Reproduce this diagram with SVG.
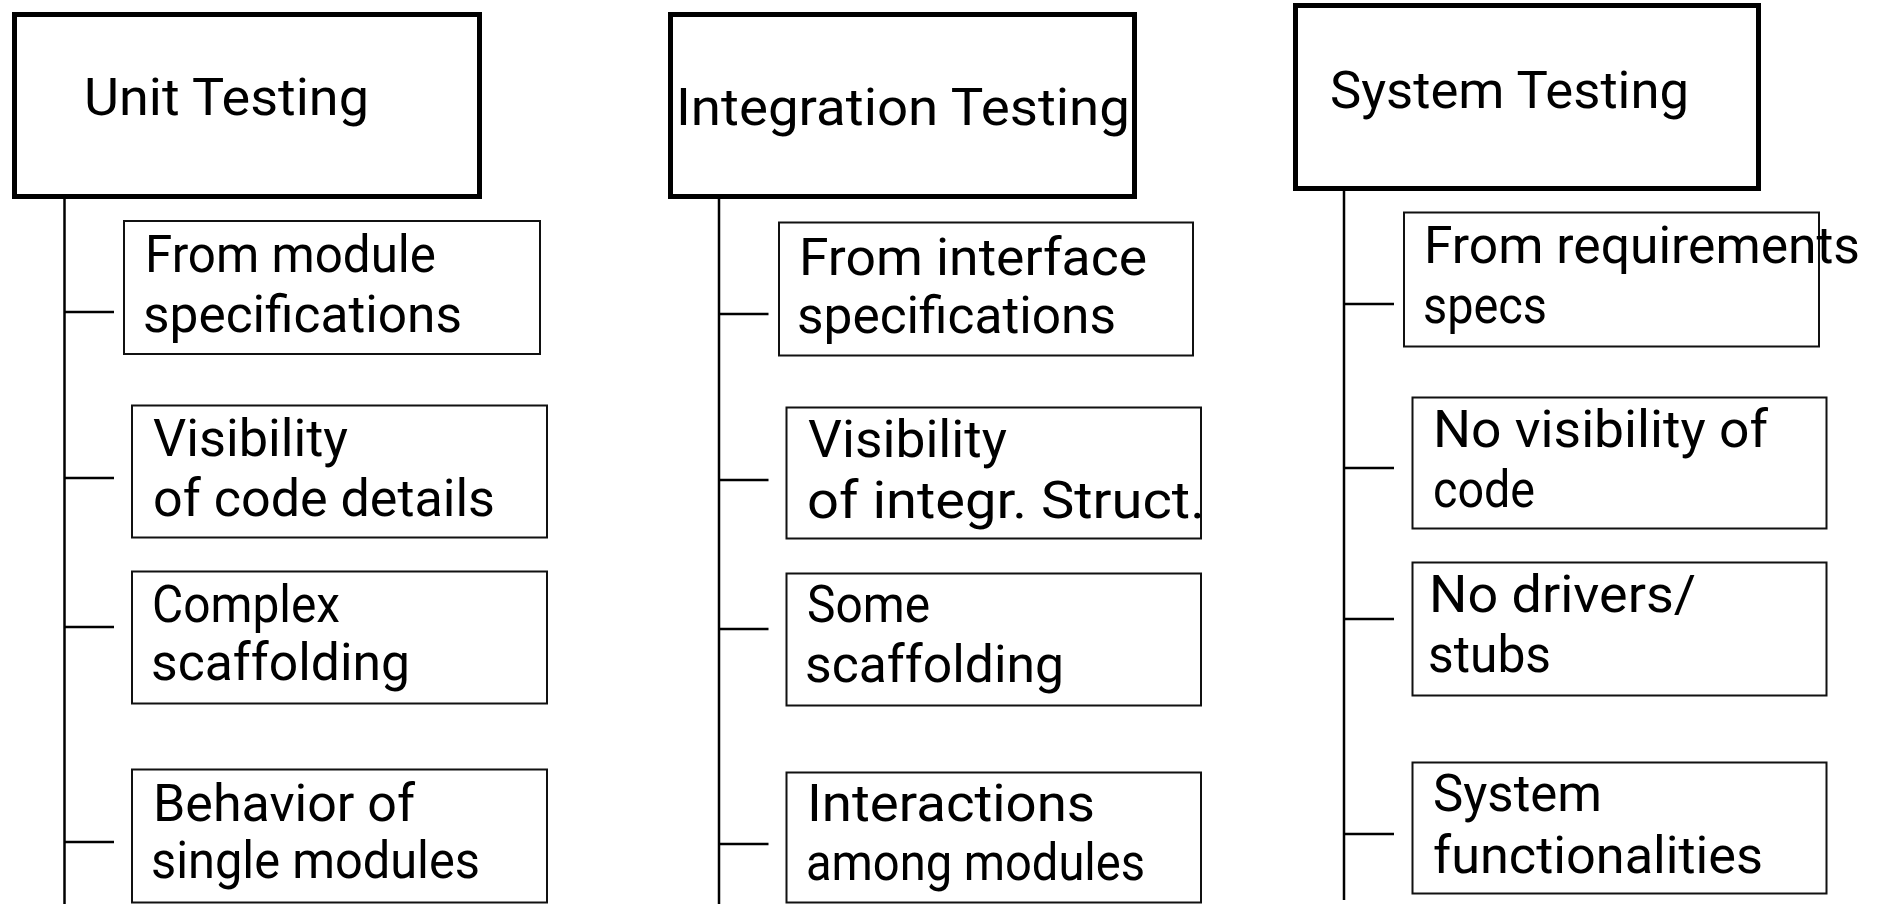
<svg xmlns="http://www.w3.org/2000/svg" width="1883" height="904" viewBox="0 0 1883 904">
  <style>
    .head { fill: #fff; stroke: #000; stroke-width: 5; }
    .box { fill: #fff; stroke: #111; stroke-width: 2; }
    .wire { stroke: #000; stroke-width: 2.5; fill: none; }
    text { font-family: Roboto, "Liberation Sans", sans-serif; font-size: 52px; fill: #000; }
  </style>
  <rect width="1883" height="904" fill="#fff"/>

  <!-- trunk lines and branch stubs -->
  <g id="connectors">
    <line class="wire" x1="64.5" y1="199" x2="64.5" y2="904"/>
    <line class="wire" x1="64.5" y1="312" x2="114" y2="312"/>
    <line class="wire" x1="64.5" y1="478" x2="114" y2="478"/>
    <line class="wire" x1="64.5" y1="627" x2="114" y2="627"/>
    <line class="wire" x1="64.5" y1="842" x2="114" y2="842"/>

    <line class="wire" x1="719" y1="199" x2="719" y2="904"/>
    <line class="wire" x1="719" y1="314" x2="768.5" y2="314"/>
    <line class="wire" x1="719" y1="480" x2="768.5" y2="480"/>
    <line class="wire" x1="719" y1="629" x2="768.5" y2="629"/>
    <line class="wire" x1="719" y1="844" x2="768.5" y2="844"/>

    <line class="wire" x1="1344" y1="191" x2="1344" y2="900"/>
    <line class="wire" x1="1344" y1="304" x2="1394" y2="304"/>
    <line class="wire" x1="1344" y1="468" x2="1394" y2="468"/>
    <line class="wire" x1="1344" y1="619" x2="1394" y2="619"/>
    <line class="wire" x1="1344" y1="834" x2="1394" y2="834"/>
  </g>

  <!-- Unit testing column -->
  <g id="unit-testing">
    <rect class="head" x="14.5" y="14.5" width="465" height="182"/>
    <text x="84" y="115" textLength="285" lengthAdjust="spacingAndGlyphs">Unit Testing</text>
  </g>
  <g id="unit-source">
    <rect class="box" x="124" y="221" width="416" height="133"/>
    <text x="145" y="272" textLength="291" lengthAdjust="spacingAndGlyphs">From module</text>
    <text x="143" y="332" textLength="319" lengthAdjust="spacingAndGlyphs">specifications</text>
  </g>
  <g id="unit-visibility">
    <rect class="box" x="132" y="405.5" width="415" height="132"/>
    <text x="153" y="456" textLength="195" lengthAdjust="spacingAndGlyphs">Visibility</text>
    <text x="153" y="516" textLength="342" lengthAdjust="spacingAndGlyphs">of code details</text>
  </g>
  <g id="unit-scaffolding">
    <rect class="box" x="132" y="571.5" width="415" height="132"/>
    <text x="152" y="622" textLength="188" lengthAdjust="spacingAndGlyphs">Complex</text>
    <text x="151" y="680" textLength="259" lengthAdjust="spacingAndGlyphs">scaffolding</text>
  </g>
  <g id="unit-behavior">
    <rect class="box" x="132" y="769.5" width="415" height="133"/>
    <text x="153" y="821" textLength="262" lengthAdjust="spacingAndGlyphs">Behavior of</text>
    <text x="151" y="878" textLength="329" lengthAdjust="spacingAndGlyphs">single modules</text>
  </g>

  <!-- Integration testing column -->
  <g id="integration-testing">
    <rect class="head" x="670.5" y="14.5" width="464" height="182"/>
    <text x="676" y="125" textLength="454" lengthAdjust="spacingAndGlyphs">Integration Testing</text>
  </g>
  <g id="integration-source">
    <rect class="box" x="779" y="222.5" width="414" height="133"/>
    <text x="799" y="275" textLength="348" lengthAdjust="spacingAndGlyphs">From interface</text>
    <text x="797" y="333" textLength="319" lengthAdjust="spacingAndGlyphs">specifications</text>
  </g>
  <g id="integration-visibility">
    <rect class="box" x="786.5" y="407.5" width="414.5" height="131"/>
    <text x="808" y="457" textLength="199" lengthAdjust="spacingAndGlyphs">Visibility</text>
    <text x="807" y="518" textLength="398" lengthAdjust="spacingAndGlyphs">of integr. Struct.</text>
  </g>
  <g id="integration-scaffolding">
    <rect class="box" x="786.5" y="573.5" width="414.5" height="132"/>
    <text x="807" y="622" textLength="123" lengthAdjust="spacingAndGlyphs">Some</text>
    <text x="805" y="682" textLength="259" lengthAdjust="spacingAndGlyphs">scaffolding</text>
  </g>
  <g id="integration-interactions">
    <rect class="box" x="786.5" y="772.5" width="414.5" height="130"/>
    <text x="807" y="821" textLength="288" lengthAdjust="spacingAndGlyphs">Interactions</text>
    <text x="806" y="880" textLength="339" lengthAdjust="spacingAndGlyphs">among modules</text>
  </g>

  <!-- System testing column -->
  <g id="system-testing">
    <rect class="head" x="1295.5" y="5.5" width="463" height="183"/>
    <text x="1330" y="108" textLength="359" lengthAdjust="spacingAndGlyphs">System Testing</text>
  </g>
  <g id="system-source">
    <rect class="box" x="1404" y="212.5" width="415" height="134"/>
    <text x="1424" y="263" textLength="436" lengthAdjust="spacingAndGlyphs">From requirements</text>
    <text x="1423" y="323" textLength="124" lengthAdjust="spacingAndGlyphs">specs</text>
  </g>
  <g id="system-visibility">
    <rect class="box" x="1412.5" y="397.5" width="414" height="131"/>
    <text x="1433" y="447" textLength="335" lengthAdjust="spacingAndGlyphs">No visibility of</text>
    <text x="1433" y="507" textLength="102" lengthAdjust="spacingAndGlyphs">code</text>
  </g>
  <g id="system-stubs">
    <rect class="box" x="1412.5" y="562.5" width="414" height="133"/>
    <text x="1429" y="612" textLength="267" lengthAdjust="spacingAndGlyphs">No drivers/</text>
    <text x="1428" y="672" textLength="123" lengthAdjust="spacingAndGlyphs">stubs</text>
  </g>
  <g id="system-functionality">
    <rect class="box" x="1412.5" y="762.5" width="414" height="131"/>
    <text x="1433" y="811" textLength="169" lengthAdjust="spacingAndGlyphs">System</text>
    <text x="1433" y="873" textLength="330" lengthAdjust="spacingAndGlyphs">functionalities</text>
  </g>
</svg>
